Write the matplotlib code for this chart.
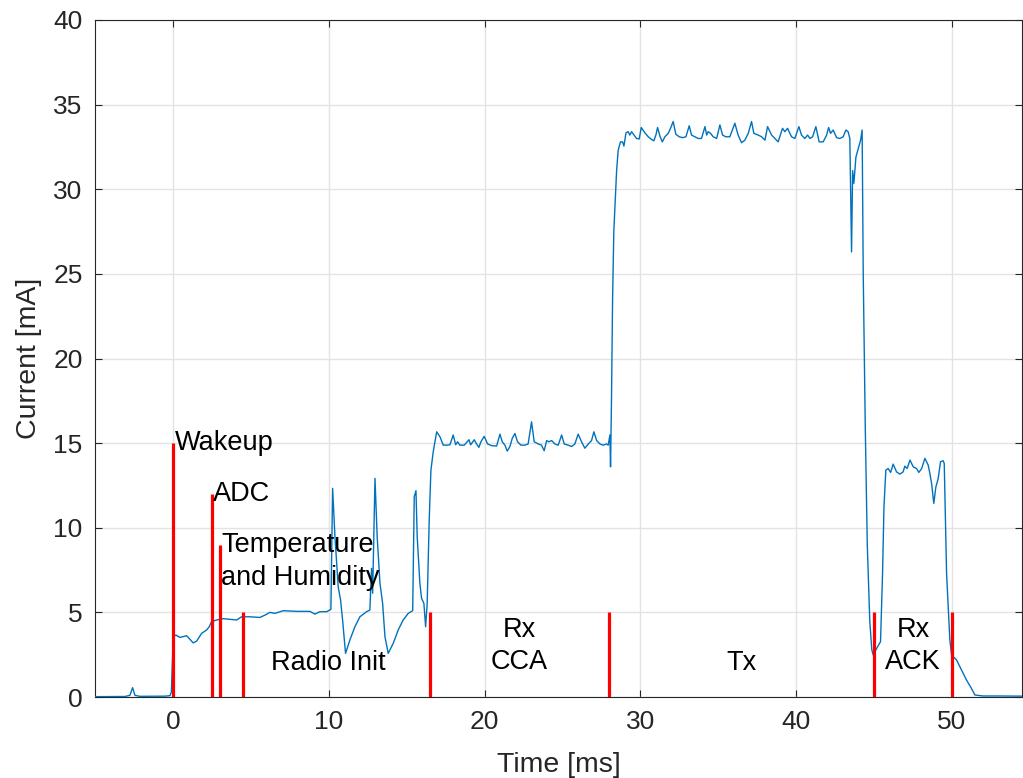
import matplotlib
matplotlib.use("Agg")
import matplotlib.pyplot as plt

plt.rcParams['font.family'] = ['Liberation Sans', 'DejaVu Sans']

time_ms = [
    -5.0, -3.08, -2.76, -2.59, -2.44, -2.12, -0.51, -0.19, -0.10,
    0.02, 0.19, 0.45, 0.88, 1.30, 1.52, 1.84, 2.16, 2.33, 2.48, 2.80,
    3.23, 3.66, 4.09, 4.41, 4.94, 5.58, 5.91, 6.23, 6.55, 7.08, 7.94,
    8.79, 9.11, 9.43, 9.87, 10.14, 10.25, 10.40, 10.61, 10.76, 10.89,
    11.08, 11.36, 11.68, 12.00, 12.43, 12.64, 12.75, 12.82, 12.97, 13.11,
    13.29, 13.46, 13.61, 13.82, 14.14, 14.46, 14.78, 15.10, 15.39, 15.49,
    15.60, 15.68, 15.85, 15.96, 16.11, 16.22, 16.32, 16.45, 16.56, 16.71,
    16.93, 17.14, 17.35, 17.57, 17.78, 17.99, 18.15, 18.27, 18.42, 18.70,
    19.00, 19.11, 19.34, 19.49, 19.64, 19.77, 19.98, 20.20, 20.46, 20.78,
    20.99, 21.14, 21.31, 21.46, 21.63, 21.78, 21.95, 22.12, 22.34, 22.59,
    22.80, 23.02, 23.19, 23.45, 23.66, 23.83, 23.99, 24.13, 24.31, 24.52,
    24.73, 24.95, 25.12, 25.37, 25.59, 25.80, 26.01, 26.23, 26.44, 26.66,
    26.87, 27.02, 27.20, 27.41, 27.62, 27.84, 27.94, 28.05, 28.09, 28.15,
    28.22, 28.30, 28.48, 28.58, 28.73, 28.86, 28.95, 29.08, 29.22, 29.33,
    29.44, 29.76, 29.93, 30.06, 30.30, 30.51, 30.73, 30.87, 31.00, 31.11,
    31.26, 31.41, 31.58, 31.79, 31.94, 32.11, 32.28, 32.50, 32.72, 32.93,
    33.14, 33.29, 33.50, 33.72, 33.93, 34.15, 34.26, 34.36, 34.51, 34.68,
    34.90, 35.11, 35.28, 35.49, 35.75, 36.07, 36.28, 36.50, 36.71, 36.93,
    37.14, 37.29, 37.57, 37.79, 38.00, 38.17, 38.43, 38.64, 38.85, 39.13,
    39.28, 39.45, 39.71, 39.92, 40.18, 40.35, 40.56, 40.74, 40.89, 41.06,
    41.27, 41.48, 41.74, 41.96, 42.09, 42.21, 42.38, 42.60, 42.81, 43.02,
    43.20, 43.34, 43.45, 43.56, 43.63, 43.71, 43.84, 43.99, 44.14, 44.24,
    44.31, 44.44, 44.57, 44.73, 44.86, 44.95, 45.17, 45.42, 45.55, 45.64,
    45.76, 45.91, 46.07, 46.23, 46.45, 46.66, 46.87, 46.98, 47.13, 47.31,
    47.52, 47.73, 47.88, 48.06, 48.27, 48.48, 48.59, 48.70, 48.84, 48.97,
    49.12, 49.27, 49.44, 49.51, 49.66, 49.87, 49.98, 50.30, 50.62, 50.94,
    51.20, 51.48, 52.00, 53.08, 54.50,
]
current_ma = [
    0.02, 0.03, 0.10, 0.55, 0.10, 0.04, 0.05, 0.08, 0.30,
    3.56, 3.66, 3.52, 3.62, 3.20, 3.30, 3.76, 3.96, 4.15, 4.45, 4.55,
    4.63, 4.59, 4.55, 4.74, 4.74, 4.70, 4.84, 5.00, 4.94, 5.10, 5.06,
    5.06, 4.90, 5.04, 5.04, 5.18, 12.33, 9.47, 6.50, 5.73, 4.55,
    2.58, 3.37, 4.15, 4.74, 5.04, 5.14, 7.60, 6.13, 12.92, 9.47,
    6.72, 5.53, 3.56, 2.58, 3.17, 3.96, 4.55, 4.94, 5.10, 11.83,
    12.19, 9.47, 6.72, 5.83, 5.53, 4.15, 5.53, 10.45, 13.40, 14.50,
    15.67, 15.38, 14.88, 14.88, 14.90, 15.48, 14.90, 15.08, 14.88, 14.88,
    15.20, 14.90, 15.20, 14.95, 14.75, 15.08, 15.40, 14.95, 14.85, 14.83,
    15.53, 15.08, 14.88, 14.53, 14.80, 15.28, 15.57, 15.08, 14.88, 14.88,
    14.95, 16.26, 15.08, 14.95, 14.88, 14.55, 15.15, 15.08, 15.15, 14.95,
    14.88, 15.48, 14.95, 14.88, 14.80, 14.95, 15.53, 15.08, 14.70, 14.95,
    15.15, 15.67, 15.15, 14.95, 14.88, 14.95, 14.88, 15.48, 13.60, 17.50,
    23.40, 27.50, 31.10, 32.30, 32.80, 32.80, 32.55, 33.33, 33.40, 33.20,
    33.40, 33.00, 32.97, 33.65, 33.33, 33.10, 32.94, 32.86, 33.20, 33.65,
    33.14, 32.80, 33.10, 33.30, 33.60, 34.00, 33.25, 33.10, 33.05, 33.10,
    33.75, 33.20, 33.10, 33.00, 33.00, 33.70, 33.20, 33.40, 33.30, 33.10,
    33.00, 33.80, 33.20, 33.10, 33.10, 33.90, 33.20, 32.75, 32.90, 33.30,
    34.00, 33.30, 33.20, 33.10, 32.90, 33.70, 33.20, 33.00, 32.80, 33.60,
    33.40, 33.60, 33.10, 33.00, 33.70, 33.20, 33.00, 33.20, 33.00, 33.10,
    33.70, 32.80, 32.80, 33.20, 33.65, 33.30, 33.50, 33.05, 33.00, 33.10,
    33.50, 33.40, 33.00, 26.30, 31.10, 30.35, 31.90, 32.40, 32.90, 33.50,
    25.00, 16.00, 9.00, 4.50, 2.80, 2.48, 2.87, 3.27, 7.30, 11.20,
    13.40, 13.50, 13.27, 13.76, 13.30, 13.17, 13.30, 13.64, 13.50, 14.00,
    13.60, 13.50, 13.27, 13.50, 14.10, 13.70, 13.20, 12.60, 11.44, 12.40,
    12.90, 13.90, 13.96, 13.80, 7.30, 3.37, 2.48, 2.19, 1.60, 1.00,
    0.60, 0.12, 0.06, 0.06, 0.05,
]

# phase markers
marker_t = [0, 2.5, 3, 4.5, 16.5, 28, 45, 50]
marker_h = [15, 12, 9, 5, 5, 5, 5, 5]

# phase labels: text, x, y, horizontal alignment
label_txt = ['Wakeup', 'ADC', 'Temperature\nand Humidity', 'Radio Init',
             'Rx\nCCA', 'Tx', 'Rx\nACK']
label_x = [0.1, 2.6, 3.1, 10, 22.25, 36.5, 47.5]
label_y = [15, 12, 8, 2, 3, 2, 3]
label_ha = ['left', 'left', 'left', 'center', 'center', 'center', 'center']

fig = plt.figure(figsize=(10.23, 7.78), dpi=100)
ax = fig.add_axes([0.0929, 0.1041, 0.9061, 0.8702])

ax.plot(time_ms, current_ma, color='#0072BD', linewidth=1.0, zorder=3)
ax.vlines(marker_t, 0, marker_h, colors='red', linewidth=2.3, zorder=4)

for txt, x, y, ha in zip(label_txt, label_x, label_y, label_ha):
    ax.text(x, y, txt, ha=ha, va='center', fontsize=19.5, color='black',
            linespacing=1.32, zorder=5)

ax.set_xlim(-5, 54.5)
ax.set_ylim(0, 40)
ax.set_xticks([0, 10, 20, 30, 40, 50])
ax.set_yticks(range(0, 41, 5))
ax.grid(True, color='#e3e3e3', linewidth=1.0)
ax.set_axisbelow(True)
ax.tick_params(direction='in', length=5, width=0.8, colors='#262626',
               labelsize=19, top=True, right=True, pad=9)
for s in ax.spines.values():
    s.set_color('#262626')
    s.set_linewidth(0.8)

ax.set_xlabel('Time [ms]', fontsize=20.5, color='#262626', labelpad=13)
ax.set_ylabel('Current [mA]', fontsize=20.5, color='#262626', labelpad=8)

fig.savefig('out.png', dpi=100)
